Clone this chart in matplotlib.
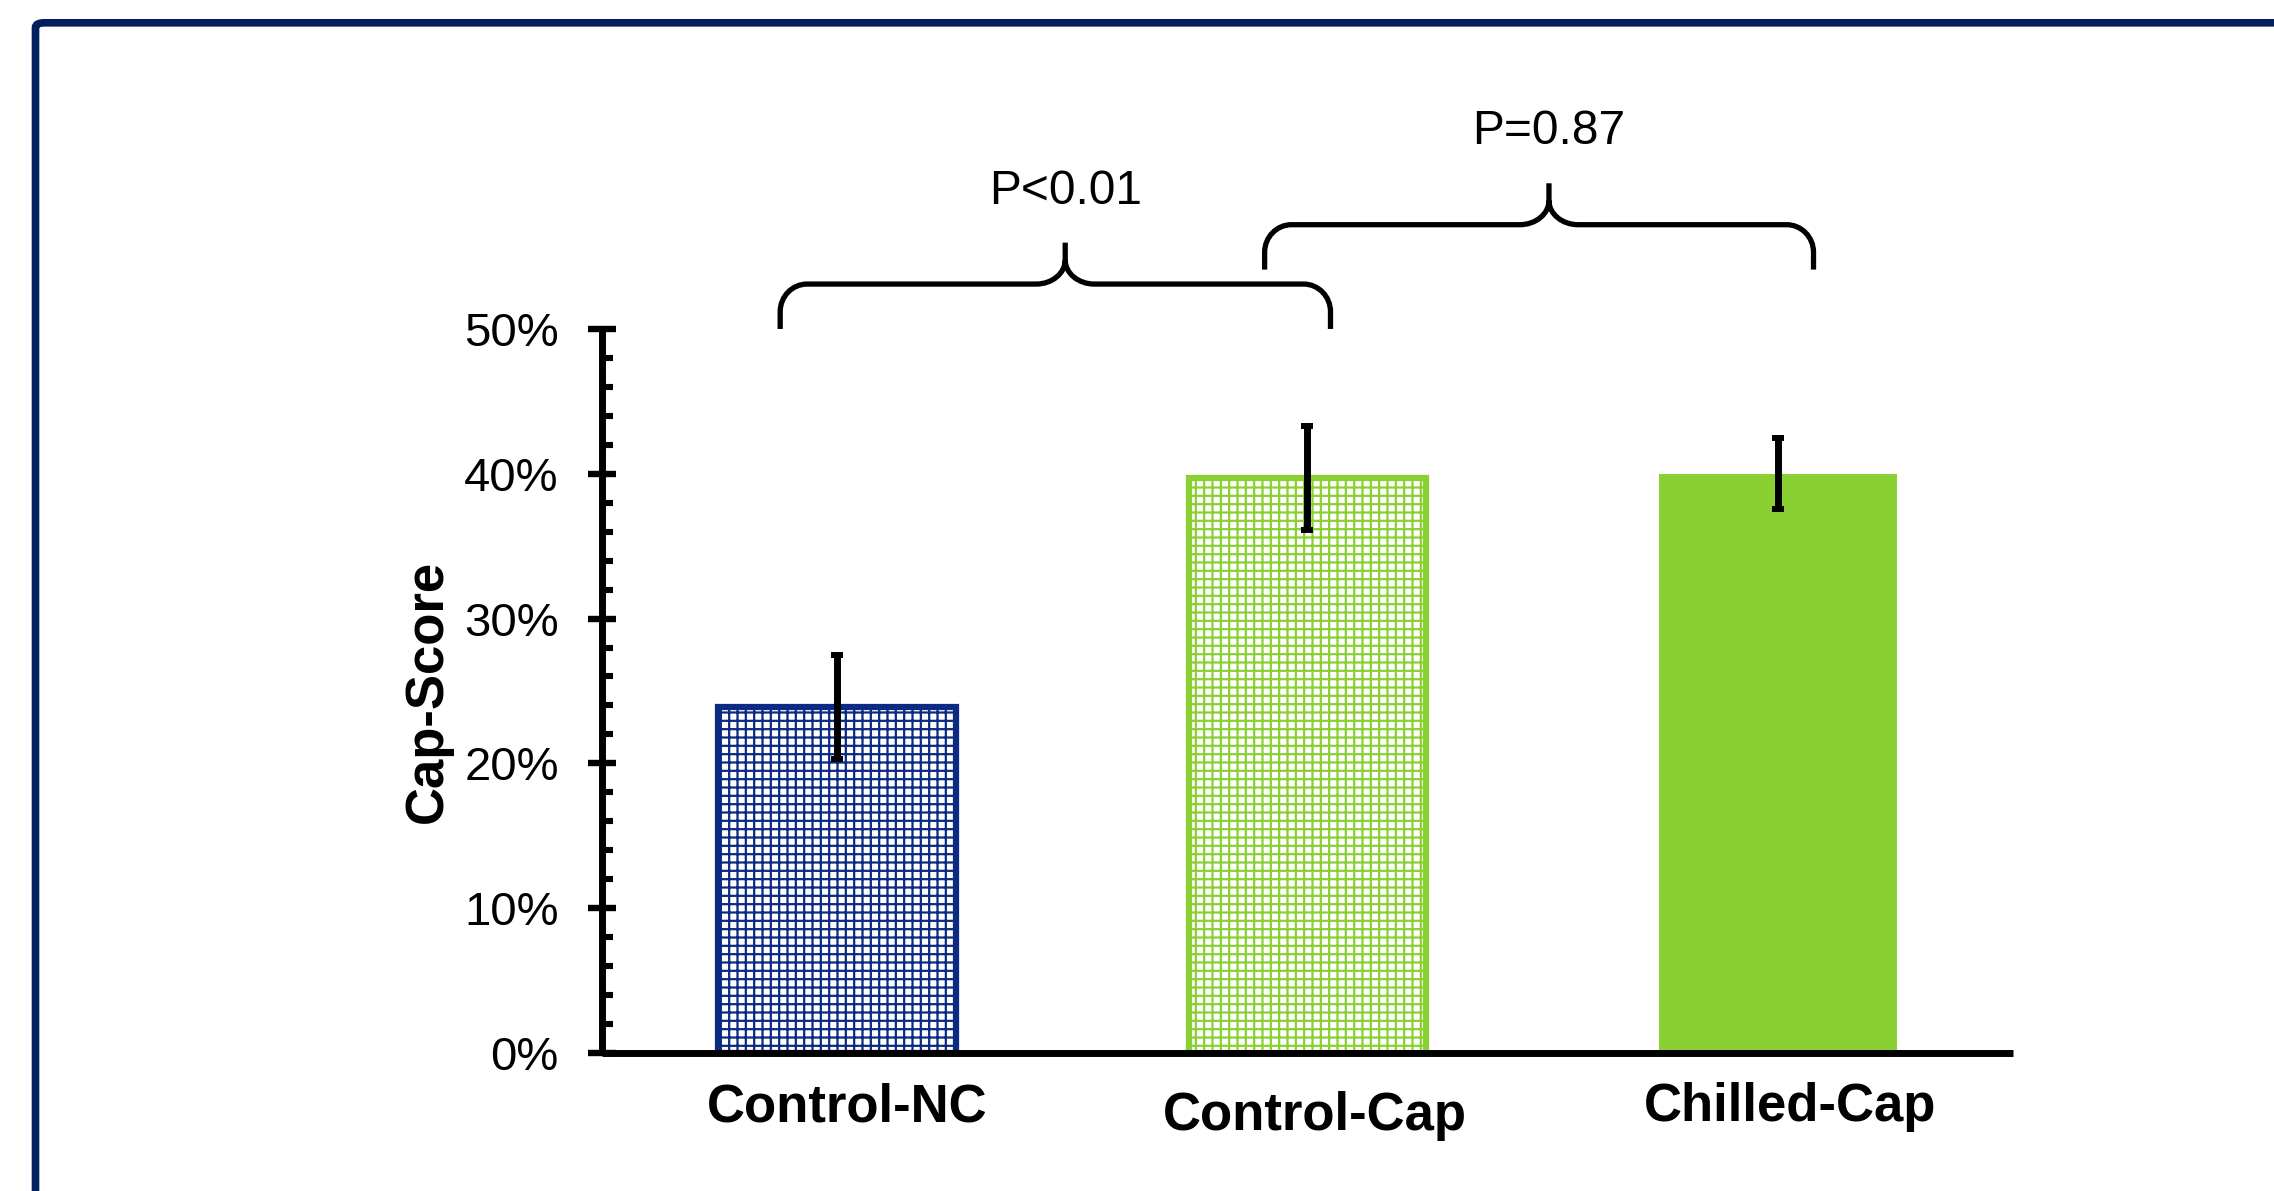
import matplotlib
matplotlib.use("Agg")
import matplotlib.pyplot as plt
from matplotlib.path import Path
from matplotlib.patches import PathPatch, FancyBboxPatch
from matplotlib.ticker import MultipleLocator, FuncFormatter
import matplotlib.transforms as mtransforms

# ---------------- data ----------------
categories = ["Control-NC", "Control-Cap", "Chilled-Cap"]
values = [23.9, 39.7, 40.0]          # Cap-Score (%)
errors = [3.6, 3.6, 2.45]            # error bar half-widths (%)
comparisons = [(0, 1, "P<0.01"), (1, 2, "P=0.87")]
y_ticks = [0, 10, 20, 30, 40, 50]

# ---------------- style ----------------
plt.rcParams['font.family'] = ['Liberation Sans', 'DejaVu Sans']
plt.rcParams['hatch.linewidth'] = 1.6

NAVY = "#002060"
BLUE = "#0B2A82"
GREEN = "#8AD032"

fig = plt.figure(figsize=(22.74, 11.91), dpi=100)
ax = fig.add_axes([0.2647, 0.1159, 0.6205, 0.6079])

x = list(range(len(categories)))
bar_w = 0.505
styles = [
    dict(facecolor="white", edgecolor=BLUE, hatch="++", linewidth=4.5),
    dict(facecolor="white", edgecolor=GREEN, hatch="++", linewidth=4.5),
    dict(facecolor=GREEN, edgecolor=GREEN, hatch=None, linewidth=0),
]
for xi, v, st in zip(x, values, styles):
    ax.bar(xi, v, width=bar_w, zorder=2, **st)

ax.errorbar(x, values, yerr=errors, fmt="none", ecolor="black",
            elinewidth=5.0, capsize=4.6, capthick=4.3, zorder=3)

ax.set_xlim(-0.5, 2.5)
ax.set_ylim(0, 50)

# spines
for s in ("top", "right"):
    ax.spines[s].set_visible(False)
for s in ("left", "bottom"):
    ax.spines[s].set_linewidth(5.0)
    ax.spines[s].set_capstyle("butt")

ax.set_yticks(y_ticks)
ax.yaxis.set_minor_locator(MultipleLocator(2))
ax.yaxis.set_major_formatter(FuncFormatter(lambda v, p: f"{v:.0f}%"))
ax.tick_params(axis="y", which="major", direction="inout", length=20,
               width=4.6, pad=21, labelsize=34)
ax.tick_params(axis="y", which="minor", direction="in", length=8, width=4.4)

ax.set_xticks(x, categories)
ax.tick_params(axis="x", which="both", length=0, pad=21, labelsize=38)
for lbl in ax.get_xticklabels():
    lbl.set_fontweight("bold")
# small individual label offsets (points)
offs = [(7, 0), (5, -6.5), (9, 0)]
for lbl, (dx, dy) in zip(ax.get_xticklabels(), offs):
    lbl.set_transform(lbl.get_transform() +
                      mtransforms.ScaledTranslation(dx / 72, dy / 72, fig.dpi_scale_trans))

ax.set_ylabel("Cap-Score", fontsize=38, fontweight="bold", va="center")
ax.yaxis.set_label_coords(-0.123, 0.5)


# ---------------- braces ----------------
def brace(x0, x1, y0, shift=0.021, color="black", lw=3.8):
    xc = (x0 + x1) / 2 + shift
    e_v = 1.2      # vertical stub at ends (%)
    c_dx, c_dy = 0.057, 1.9   # end corner radii
    m_dx, m_dy = 0.062, 1.66  # middle corner radii
    tip = 1.2
    yh = y0 + e_v + c_dy
    k = 0.55
    verts = [
        (x0, y0), (x0, y0 + e_v),
        (x0, y0 + e_v + c_dy * k), (x0 + c_dx * (1 - k), yh), (x0 + c_dx, yh),
        (xc - m_dx, yh),
        (xc - m_dx * (1 - k), yh), (xc, yh + m_dy * (1 - k)), (xc, yh + m_dy),
        (xc, yh + m_dy + tip),
        (xc, yh + m_dy),
        (xc, yh + m_dy * (1 - k)), (xc + m_dx * (1 - k), yh), (xc + m_dx, yh),
        (x1 - c_dx, yh),
        (x1 - c_dx * (1 - k), yh), (x1, y0 + e_v + c_dy * k), (x1, y0 + e_v),
        (x1, y0),
    ]
    codes = [Path.MOVETO, Path.LINETO,
             Path.CURVE4, Path.CURVE4, Path.CURVE4,
             Path.LINETO,
             Path.CURVE4, Path.CURVE4, Path.CURVE4,
             Path.LINETO,
             Path.MOVETO,
             Path.CURVE4, Path.CURVE4, Path.CURVE4,
             Path.LINETO,
             Path.CURVE4, Path.CURVE4, Path.CURVE4,
             Path.LINETO]
    patch = PathPatch(Path(verts, codes), facecolor="none", edgecolor=color,
                      linewidth=lw, clip_on=False, capstyle="butt", joinstyle="round")
    ax.add_patch(patch)
    return xc, yh + m_dy + tip


brace_geo = [(-0.121, 1.049, 50.0), (0.909, 2.076, 54.1)]
for (i, j, txt), (bx0, bx1, by0) in zip(comparisons, brace_geo):
    xc, ytop = brace(bx0, bx1, by0)
    ax.text(xc, ytop + 2.7, txt, ha="center", va="baseline", fontsize=34.5,
            clip_on=False)

# ---------------- frame ----------------
frame = FancyBboxPatch((35.5 / 2274, -0.2), 1.2, 1.2 - 22.8 / 1191,
                       boxstyle="round,pad=0,rounding_size=0.004",
                       transform=fig.transFigure, facecolor="none",
                       edgecolor=NAVY, linewidth=5.5, clip_on=False)
fig.patches.append(frame)

fig.savefig("out.png", dpi=100)
